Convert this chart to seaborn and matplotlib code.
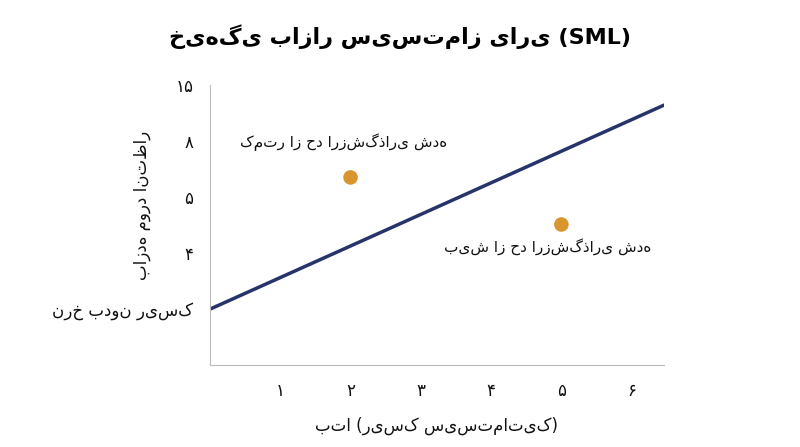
import matplotlib
matplotlib.use("Agg")
import matplotlib.pyplot as plt
import seaborn as sns
import pandas as pd

sns.set_style("white")
plt.rcParams['font.family'] = ['DejaVu Sans', 'Noto Sans']

line_x = [0, 6.46]
line_y = [1.0, 4.64]
pt_x = [2, 5]
pt_y = [3.35, 2.51]
pt_labels = ["کمتر از حد ارزش‌گذاری شده", "بیش از حد ارزش‌گذاری شده"]
x_ticks = [1, 2, 3, 4, 5, 6]
x_labels = ["۱", "۲", "۳", "۴", "۵", "۶"]
y_ticks = [1, 2, 3, 4, 5]
y_labels = ["نرخ بدون ریسک", "۴", "۵", "۸", "۱۵"]

fig, ax = plt.subplots(figsize=(8, 4.47), dpi=100)
fig.subplots_adjust(left=0.2625, right=0.83, bottom=0.183, top=0.81)
sns.lineplot(data=pd.DataFrame({"x": line_x, "y": line_y}), x="x", y="y",
             color="#27336b", linewidth=2.5, ax=ax)
sns.scatterplot(data=pd.DataFrame({"x": pt_x, "y": pt_y}), x="x", y="y",
                color="#d9962e", s=110, edgecolor="none", ax=ax, zorder=3)
ax.text(2 - 0.1, pt_y[0] + 0.55, pt_labels[0], ha="center", fontsize=11, color="#111111")
ax.text(4.8, pt_y[1] - 0.48, pt_labels[1], ha="center", fontsize=11, color="#111111")
ax.set_xlim(0, 6.46)
ax.set_ylim(0, 5.0)
ax.set_xticks(x_ticks, x_labels, fontsize=12)
ax.set_yticks(y_ticks, y_labels, fontsize=12)
ax.tick_params(length=0, pad=12, colors="#111111")
for s in ["top", "right"]:
    ax.spines[s].set_visible(False)
for s in ["left", "bottom"]:
    ax.spines[s].set_color("#bbbbbb")
ax.set_xlabel("بتا (ریسک سیستماتیک)", fontsize=12, labelpad=12, color="#111111")
ax.set_ylabel("بازده مورد انتظار", fontsize=12, color="#111111")
ax.yaxis.set_label_coords(-0.13, 0.57)
fig.suptitle("خیهگی بازار سیستماز یاری (SML)", fontsize=16, fontweight="bold",
             x=0.5, y=0.945, color="#000000")
fig.savefig("out.png", dpi=100)
